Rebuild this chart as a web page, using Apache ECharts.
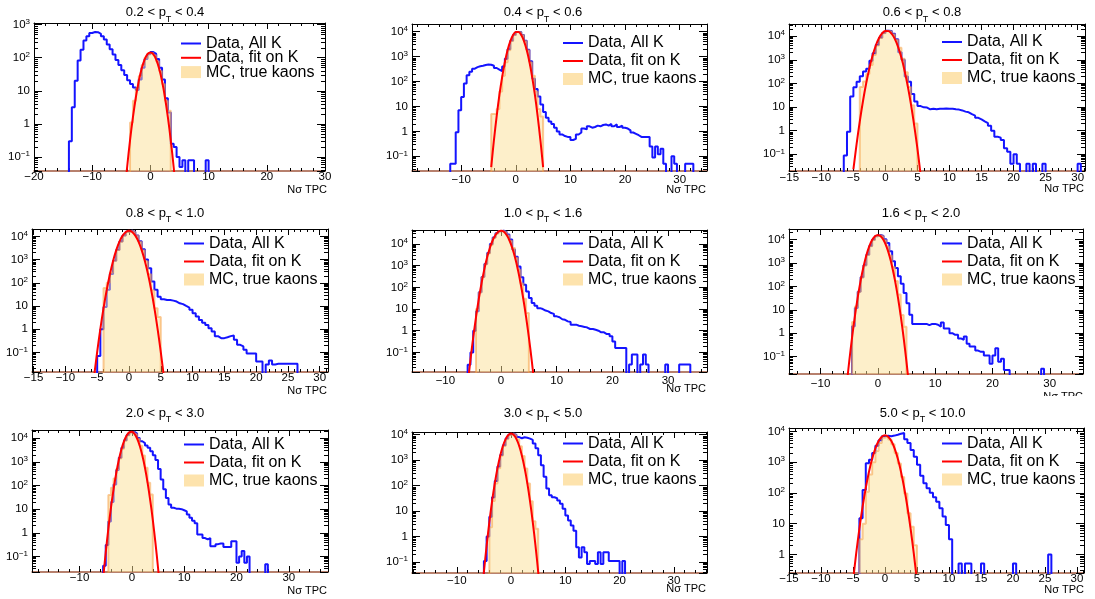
<!DOCTYPE html>
<html><head><meta charset="utf-8">
<script src="https://cdn.jsdelivr.net/npm/echarts@6/dist/echarts.min.js"></script>
<style>html,body{margin:0;padding:0;background:#fff}#c{width:1095px;height:599px}</style>
</head><body><div id="c"></div>
<script>
// ---------------- data ----------------
const BIN = 0.5;        // histogram bin width (Nσ units)
const FIT_STEP = 0.5;   // spacing of the sampled fit curve points
const ptLow  = ['0.2','0.4','0.6','0.8','1.0','1.6','2.0','3.0','5.0'];
const ptHigh = ['0.4','0.6','0.8','1.0','1.6','2.0','3.0','5.0','10.0'];
const seriesNames = ['Data, All K', 'Data, fit on K', 'MC, true kaons'];
const axisTitle = 'Nσ TPC';

const xMin = [-20, -19, -15.05, -15.25, -16, -15.5, -19.1, -18.25, -15];
const xMax = [30, 35, 31.15, 31.3, 37, 35.8, 37.5, 36.1, 31.1];
const xMajor = [10, 10, 5, 5, 10, 10, 10, 10, 5];
const yMin = [0.0377, 0.0257, 0.0197, 0.0142, 0.0125, 0.018, 0.0218, 0.037, 0.25];
const yMax = [1122, 20400, 32600, 20800, 44000, 28700, 22500, 12700, 12900];

// Data, All K  (first bin low edge, then bin contents)
const blueStart = [-14, -12, -6.5, -5, -6, -4.5, -5.5, -5, -4];
const blue1 = [0.3,3.2,20,83,175,330,450,560,600,590,530,450,355,250,180,125,85,60,42,30,21,16,12.5,10.5,22,50,92,128,148,130,92,50,22,6,2.2,0.25,0.2,0.1,0.05,0.08,0,0.08,0.08,0,0,0,0,0.08];
const blue2 = [0.05,0.05,0.93,7,24,83,178,245,330,380,410,430,460,480,470,430,350,300,260,400,820,2000,4300,7400,9800,9800,7400,4300,1900,650,130,50,25,12,6,3.5,2.5,2,1.4,1.0,0.75,0.65,0.6,0.6,0.45,0.5,0.75,0.9,1.3,1.2,1.6,1.4,1.5,1.7,1.6,1.8,1.9,1.7,2.0,1.6,1.9,1.5,1.7,1.4,1.3,1.1,0.9,0.8,0.7,0.6,0.6,0.6,0.6,0.25,0.09,0.25,0.12,0.2,0.05,0,0,0.1,0.05,0,0,0,0.05,0.05,0.05];
const blue3 = [0.09,0.9,28,69,118,200,316,420,900,1900,4300,8500,13500,17000,16500,12500,7400,2100,1000,195,118,36,17,11,9.7,9.5,8,8.5,8,8.5,8.5,8.7,8.5,8.5,8,7.8,7.2,6.4,6,5,4.3,3.5,3,2.5,2.1,1.6,1,0.56,0.5,0.4,0.18,0.13,0.04,0.1,0.04,0,0,0.04,0,0.04,0,0,0.04,0,0,0,0,0,0,0,0,0,0,0.04];
const blue4 = [0.07,1,9,50,240,900,2600,6000,11000,15800,17500,15500,11000,6100,2800,1000,425,113,50,25,19.5,18,18,17,15.5,13,12,10,8.5,6.8,4.9,3.5,2.5,1.9,1.5,1.1,0.8,0.5,0.41,0.41,0.45,0.5,0.53,0.35,0.21,0.18,0.13,0.09,0.09,0.09,0.04,0.04,0,0.03,0.045,0.03,0.032,0.032,0.032,0.032,0.032,0.032,0.032];
const blue5 = [0.027,0.1,1,8,60,300,1200,3800,10000,20000,31000,39000,41000,36000,27000,16000,5500,2600,910,295,132,65,32,19,14,11,10,8.5,7.8,6.5,6,4.6,4.2,3.4,3.2,2.7,2.5,1.9,1.9,1.7,1.6,1.5,1.4,1.2,1.2,1.1,1.0,0.84,0.84,0.7,0.7,0.55,0.32,0.16,0.16,0.16,0.16,0,0.028,0.08,0.08,0,0.028,0.08,0.028,0,0,0,0,0,0,0.028,0,0,0,0,0.028,0.028,0.028,0.028];
const blue6 = [2,12,60,250,800,2300,5400,9900,14200,16000,14500,10500,7200,3200,1200,610,270,130,52,19,6.1,2.5,2.5,2.5,2.5,2.5,2.2,2.5,2.5,2.3,1.9,2.9,1.6,1.6,1.0,0.85,0.85,0.6,0.52,0.72,0.35,0.27,0.27,0.18,0.16,0.16,0.11,0.11,0.05,0.11,0.23,0.06,0.08,0.027,0.027,0,0,0,0,0,0,0,0,0,0,0,0.03];
const blue7 = [0.04,0.3,3,20,110,450,1500,4000,8300,13800,18000,19000,16000,10200,7500,6300,5000,4000,2800,1900,1200,500,180,70,30,15.7,11.4,10.5,10.3,10,9,8,5.9,4.3,3.2,2.5,0.85,0.85,0.6,0.52,0.6,0.27,0.27,0.33,0.35,0.35,0.25,0.25,0.25,0.44,0.44,0.054,0.1,0.17,0.054,0.1,0,0,0,0,0,0,0.046];
const blue8 = [0.11,1,6,35,150,560,1600,3800,7000,10000,11000,9700,8000,7200,7900,7600,7000,6200,4500,2900,1570,630,220,76,42,35,32,26,19.5,12.4,6.7,4.3,2.7,1.7,0.38,0.15,0.38,0.24,0.083,0.11,0.11,0.083,0.24,0.083,0.24,0.24,0.11,0.11,0.11,0.11,0,0.11];
const blue9 = [15,125,930,1200,2000,3400,5200,6900,7200,7000,7300,7800,8400,8900,5600,4200,2500,1500,820,360,207,142,102,72,52,32,17,9,3.1,0,0,0.51,0,0.51,0.51,0,0,0,0.51,0,0,0,0,0,0,0,0,0,0.51,0,0,0,0,0,0,0,0,0,0,1.0];

// MC, true kaons
const mcStart = [-3.5, -4.5, -4, -4, -4.5, -4.5, -4.5, -4, -4];
const mc1 = [1.1,5,12,28,60,100,135,142,118,78,40,16,5,2.5];
const mc2 = [5,5,8,40,170,600,1800,4200,7300,9700,9700,7300,4200,1800,600,170,40,8,4];
const mc3 = [70,120,250,600,1600,4000,8300,13300,16700,16000,12000,7000,3200,1100,300,70,12,2];
const mc4 = [60,100,280,900,2600,5900,10800,15500,17500,15500,10800,5900,2500,850,230,48,8,3.3];
const mc5 = [10,60,300,1150,3600,9000,19000,30000,38500,40500,35000,25000,14000,6500,2300,650,150,30,6.5];
const mc6 = [3,14,60,240,780,2200,5200,9700,14000,15800,14000,9600,5100,2100,680,170,45,6,1.9];
const mc7 = [40,80,200,500,1400,3600,7800,13300,17800,18700,15300,9700,4800,1850,560,130,42];
const mc8 = [2.3,25,120,480,1480,3550,6600,9600,10900,9600,6600,3500,1450,470,120,24,4,2];
const mc9 = [3.1,10,110,400,1000,2300,4200,6200,6800,5500,3800,2000,900,330,95,22,8,2];

// Data, fit on K (sampled curve)
const fitStart = [-4.5, -4.5, -5, -5.5, -6, -5.5, -5.5, -5.5, -5];
const fit1 = [0.0058,0.049,0.32,1.6,6.4,19.6,47,88,128,145,128,88,47,19.6,6.4,1.6,0.32,0.049,0.0058];
const fit2 = [0.037,0.45,4.1,29,151,606,1830,4200,7320,9660,9660,7320,4200,1830,606,151,29,4.1,0.45,0.037];
const fit3 = [0.023,0.27,2.5,18,101,444,1510,4010,8280,13300,16660,16250,12300,7300,3370,1210,337,73,12.4,1.6,0.17,0.013];
const fit4 = [0.0085,0.105,1.03,8,48.5,231,870,2560,5930,10800,15500,17500,15500,10800,5930,2560,870,231,48.5,8,1.03,0.105,0.0085];
const fit5 = [0.0033,0.045,0.49,4.2,29,158,693,2410,6690,14800,26000,36600,41000,36600,26000,14800,6690,2410,693,158,29,4.2,0.49,0.045,0.0033];
const fit6 = [0.0043,0.06,0.64,5.4,35,178,703,2165,5200,9700,14100,16000,14100,9700,5200,2165,703,178,35,5.4,0.64,0.06,0.0043];
const fit7 = [0.0116,0.148,1.48,11.5,70,327,1200,3430,7640,13240,17860,18800,15380,9810,4870,1880,568,133,24.3,3.5,0.38,0.033,0.0024];
const fit8 = [0.003,0.041,0.44,3.7,24,122,483,1490,3570,6670,9700,11000,9700,6670,3570,1490,483,122,24,3.7,0.44,0.041,0.003];
const fit9 = [0.136,1.08,6.9,35.6,147,490,1310,2800,4840,6730,7500,6730,4840,2800,1310,490,147,35.6,6.9,1.08,0.136];

// ---------------- layout (pixels) ----------------
const LAYOUT = [
  {g:[34,23,291,148],  t:[165,12.3],  lg:[180,35.5,-1.7], nx:[327,190],   m:0},
  {g:[412,24,295,147], t:[543,12.3],  lg:[562,35,2],      nx:[706,190],   m:2.5},
  {g:[789,24,296,147], t:[922,12.3],  lg:[941,34,2],      nx:[1084,189],  m:1},
  {g:[32,229,296,143], t:[165,213],   lg:[183,235.5,2],   nx:[327,390.7], m:0},
  {g:[412,230,295,142],t:[543,213],   lg:[562,235.5,2],   nx:[706,389],   m:3},
  {g:[789,229,294,145],t:[921,213],   lg:[941,235.5,2],   nx:[1083,397],  m:3.5},
  {g:[32,430,296,142], t:[165,413],   lg:[183,436.5,2],   nx:[327,590.7], m:0},
  {g:[412,432,295,141],t:[543,413],   lg:[562,435.5,2],   nx:[706,589],   m:2},
  {g:[789,428,295,145],t:[922.5,413], lg:[941,435.5,2],   nx:[1084,590],  m:0}
];

const FONT = "'Liberation Sans', Arial, Helvetica, sans-serif";
const BLUE = '#1414ff', RED = '#ff0000';
const MC_FILL = 'rgba(252,224,150,0.72)', MC_LINE = 'rgba(246,160,70,0.55)';
const FLOOR = 1e-7; // empty bins are drawn below the axis minimum (clipped)

const BLUES = [blue1,blue2,blue3,blue4,blue5,blue6,blue7,blue8,blue9];
const MCS = [mc1,mc2,mc3,mc4,mc5,mc6,mc7,mc8,mc9];
const FITS = [fit1,fit2,fit3,fit4,fit5,fit6,fit7,fit8,fit9];

function histPoints(start, vals) {
  const pts = [[start, FLOOR]];
  vals.forEach((v, i) => pts.push([start + i * BIN, v > 0 ? v : FLOOR]));
  pts.push([start + vals.length * BIN, FLOOR]);
  return pts;
}
function curvePoints(start, vals) {
  return vals.map((v, i) => [start + i * FIT_STEP, v]);
}
function makeXLabel(step) {
  return function (v) {
    if (Math.abs(v / step - Math.round(v / step)) > 1e-6) return '';
    const r = Math.round(v);
    return r < 0 ? '\u2212' + (-r) : String(r);
  };
}
function yLabel(v) {
  const l = Math.log10(v), e = Math.round(l);
  if (Math.abs(l - e) > 1e-6) return '';
  if (e === 0) return '{b|1}';
  if (e === 1) return '{b|10}';
  return '{b|10}{s|' + (e < 0 ? '\u2212' + (-e) : e) + '}';
}

const grids = [], xAxes = [], yAxes = [], series = [], legends = [], titles = [];
for (let i = 0; i < 9; i++) {
  const L = LAYOUT[i];
  grids.push({left: L.g[0], top: L.g[1], width: L.g[2], height: L.g[3], containLabel: false});
  const span = xMax[i] - xMin[i];
  const xCommon = {
    gridIndex: i, type: 'value', min: xMin[i], max: xMax[i], splitNumber: Math.round(span / xMajor[i]),
    splitLine: {show: false},
    axisTick: {show: true, inside: true, length: 6, lineStyle: {color: '#000', width: 1}},
    minorTick: {show: true, splitNumber: 5, length: 3, lineStyle: {color: '#000', width: 1}}
  };
  xAxes.push(Object.assign({}, xCommon, {
    position: 'bottom',
    axisLine: {show: true, onZero: false, lineStyle: {color: '#a0573e', width: 1.5}},
    axisLabel: {show: true, margin: L.m, fontSize: 11.5, fontFamily: FONT, color: '#000',
      formatter: makeXLabel(xMajor[i]), showMinLabel: true, showMaxLabel: true}
  }));
  xAxes.push(Object.assign({}, xCommon, {
    position: 'top',
    axisLine: {show: true, onZero: false, lineStyle: {color: '#000', width: 1}},
    axisLabel: {show: false}
  }));
  const yCommon = {
    gridIndex: i, type: 'log', logBase: 10, min: yMin[i], max: yMax[i],
    splitLine: {show: false},
    axisTick: {show: true, inside: true, length: 8, lineStyle: {color: '#000', width: 1}},
    minorTick: {show: true, splitNumber: 9, length: 4, lineStyle: {color: '#000', width: 1}}
  };
  yAxes.push(Object.assign({}, yCommon, {
    position: 'left',
    axisLine: {show: true, onZero: false, lineStyle: {color: '#000', width: 1}},
    axisLabel: {show: true, margin: 4, color: '#000', formatter: yLabel,
      rich: {b: {fontSize: 11.5, lineHeight: 14, fontFamily: FONT, color: '#000'},
             s: {fontSize: 8, lineHeight: 8, verticalAlign: 'top', fontFamily: FONT, color: '#000'}}}
  }));
  yAxes.push(Object.assign({}, yCommon, {
    position: 'right',
    axisLine: {show: true, onZero: false, lineStyle: {color: '#000', width: 1}},
    axisLabel: {show: false}
  }));

  series.push({
    name: seriesNames[0], type: 'line', xAxisIndex: 2 * i, yAxisIndex: 2 * i,
    data: histPoints(blueStart[i], BLUES[i]), step: 'end', symbol: 'none', clip: true,
    lineStyle: {color: BLUE, width: 2}, itemStyle: {color: BLUE}, z: 2, silent: true
  });
  series.push({
    name: seriesNames[2], type: 'line', xAxisIndex: 2 * i, yAxisIndex: 2 * i,
    data: histPoints(mcStart[i], MCS[i]), step: 'end', symbol: 'none', clip: true,
    lineStyle: {color: MC_LINE, width: 2}, itemStyle: {color: '#f8c37c'},
    areaStyle: {color: MC_FILL, origin: 'start'}, z: 3, silent: true
  });
  series.push({
    name: seriesNames[1], type: 'line', xAxisIndex: 2 * i, yAxisIndex: 2 * i,
    data: curvePoints(fitStart[i], FITS[i]), smooth: 0.35, symbol: 'none', clip: true,
    lineStyle: {color: RED, width: 2}, itemStyle: {color: RED}, z: 4, silent: true
  });

  legends.push({
    orient: 'vertical', left: L.lg[0], top: L.lg[1], itemGap: L.lg[2], padding: 0,
    itemWidth: 20, itemHeight: 12, selectedMode: false,
    textStyle: {fontSize: 16, fontFamily: FONT, color: '#000', lineHeight: 14},
    data: [
      {name: seriesNames[0], itemStyle: {opacity: 0}},
      {name: seriesNames[1], itemStyle: {opacity: 0}},
      {name: seriesNames[2], icon: 'rect', itemStyle: {color: '#fde3ad', opacity: 1}}
    ]
  });

  titles.push({
    text: '{a|' + ptLow[i] + ' < p}{sub|T}{a| < ' + ptHigh[i] + '}',
    left: L.t[0], top: L.t[1], textAlign: 'center', textVerticalAlign: 'middle', padding: 0,
    textStyle: {fontWeight: 'normal', rich: {
      a: {fontSize: 13, lineHeight: 16, fontWeight: 'normal', fontFamily: FONT, color: '#000'},
      sub: {fontSize: 9, verticalAlign: 'top', padding: [14, 0, 0, 0], fontWeight: 'normal', fontFamily: FONT, color: '#000'}
    }}
  });
  titles.push({
    text: axisTitle, left: L.nx[0], top: L.nx[1], textAlign: 'right', textVerticalAlign: 'middle', padding: 0,
    textStyle: {fontSize: 11, fontWeight: 'normal', fontFamily: FONT, color: '#000'}
  });
}

const chart = echarts.init(document.getElementById('c'), null, {renderer: 'canvas'});
chart.setOption({
  backgroundColor: '#fff',
  animation: false,
  textStyle: {fontFamily: FONT},
  title: titles,
  legend: legends,
  grid: grids,
  xAxis: xAxes,
  yAxis: yAxes,
  series: series,
  graphic: {elements: [
    // the lower pad hides the bottom of the middle-right axis title, as in the original canvas
    {type: 'rect', shape: {x: 1000, y: 396, width: 95, height: 6}, style: {fill: '#fff'}, z: 100, silent: true}
  ]}
});
</script>
</body></html>
